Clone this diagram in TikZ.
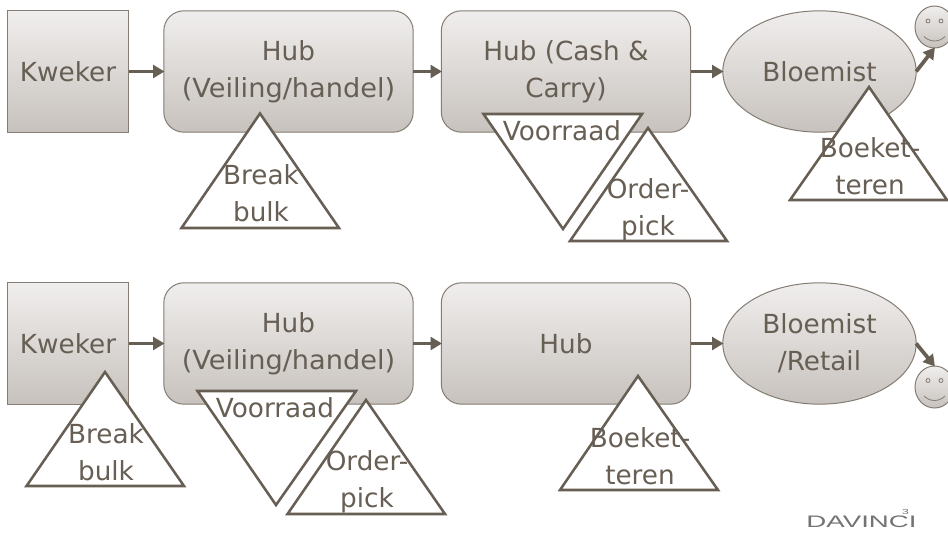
\documentclass[tikz,border=0pt]{standalone}
\usepackage{fontspec}
\setmainfont{DejaVu Sans}
\newfontfamily\logofont{Liberation Sans}
\usetikzlibrary{arrows.meta,shapes.geometric}
\definecolor{ink}{HTML}{675E54}
\definecolor{edge}{HTML}{857C73}
\definecolor{shadetop}{HTML}{F0EEED}
\definecolor{shadebot}{HTML}{C7C2BD}
\newcommand{\wideline}[1]{\scalebox{1.035}[1]{#1}}
\tikzset{
  grad/.style={draw=edge,line width=0.75pt,top color=shadetop,bottom color=shadebot,inner sep=0pt,outer sep=0pt,text=ink,align=center,
    font=\fontsize{19.7}{27.5}\selectfont},
  rectbox/.style={grad,rectangle,minimum width=91pt,minimum height=91pt},
  hubbox/.style={grad,rectangle,rounded corners=15pt,minimum width=187pt,minimum height=91pt},
  florist/.style={grad,ellipse,minimum width=145pt,minimum height=91pt},
  face/.style={grad,ellipse,minimum width=29.25pt,minimum height=31.5pt},
  flow/.style={draw=ink,line width=2.8pt,-{Triangle[length=8.5pt,width=9.5pt]},shorten >=-0.5pt},
  tri/.style={draw=ink,line width=1.9pt,fill=white,line join=miter},
  trilabel/.style={inner sep=0pt,text=ink,align=center,font=\fontsize{19.7}{27.5}\selectfont},
  facemark/.style={draw=edge,line width=0.6pt},
}
\begin{document}
\begin{tikzpicture}[x=0.75pt,y=-0.75pt]
\clip (0,0) rectangle (948,532);
\fill[white] (0,0) rectangle (948,532);
% Row 1
\node[rectbox] (k1) at (68,71.5) {Kweker};
\node[hubbox] (h1a) at (288.5,71.5) {Hub\\\wideline{(Veiling/handel)}};
\node[hubbox] (h1b) at (566,71.5) {Hub (Cash \&\\Carry)};
\node[florist] (b1) at (819.5,71.5) {Bloemist};
\node[face] (s1) at (934.5,27) {};
\draw[facemark] (928,21) circle (2);
\draw[facemark] (941,21) circle (2);
\draw[facemark] (924,36.5) .. controls (930,42.5) and (939,42.5) .. (945,36.5);
\draw[flow] (k1.east) -- (h1a.west);
\draw[flow] (h1a.east) -- (h1b.west);
\draw[flow] (h1b.east) -- (b1.west);
\draw[flow] (b1.east) -- (s1.south);
\draw[tri] (260,113.5) -- (339,228) -- (181.5,228) -- cycle;
\node[trilabel] (t1) at (261,193) {Break\\bulk};
\draw[tri] (483.5,114) -- (642,114) -- (563,229) -- cycle;
\node[trilabel] (t2) at (562,131) {Voorraad};
\draw[tri] (648,128) -- (727,241) -- (570,241) -- cycle;
\node[trilabel] (t3) at (648,210) {Order-\\pick};
\draw[tri] (869,87) -- (947,200) -- (790,200) -- cycle;
\node[trilabel] (t4) at (870,166) {Boeket-\\teren};
% Row 2
\node[rectbox] (k2) at (68,343.5) {Kweker};
\node[hubbox] (h2a) at (288.5,343.5) {Hub\\\wideline{(Veiling/handel)}};
\node[hubbox] (h2b) at (566,343.5) {Hub};
\node[florist] (b2) at (819.5,343.5) {Bloemist\\/Retail};
\node[face] (s2) at (934.5,387) {};
\draw[facemark] (928,380.5) circle (2);
\draw[facemark] (941,380.5) circle (2);
\draw[facemark] (924,396) .. controls (930,402) and (939,402) .. (945,396);
\draw[flow] (k2.east) -- (h2a.west);
\draw[flow] (h2a.east) -- (h2b.west);
\draw[flow] (h2b.east) -- (b2.west);
\draw[flow] (b2.east) -- (s2.north);
\draw[tri] (105,372) -- (184,486) -- (26.5,486) -- cycle;
\node[trilabel] (t5) at (106,452) {Break\\bulk};
\draw[tri] (197.5,391) -- (356,391) -- (276,505) -- cycle;
\node[trilabel] (t6) at (275,408) {Voorraad};
\draw[tri] (366,400) -- (445,514) -- (287.5,514) -- cycle;
\node[trilabel] (t7) at (367,482) {Order-\\pick};
\draw[tri] (638,376) -- (718,490) -- (560,490) -- cycle;
\node[trilabel] (t8) at (640,456) {Boeket-\\teren};
% Logo
\node[inner sep=0pt,text=black!55,anchor=base,font=\logofont\fontsize{12.5}{12.5}\selectfont] (logo) at (861.5,527)
  {\scalebox{1.66}[1]{DAVINC\llap{\raisebox{9.5pt}{\fontsize{5.5}{5.5}\selectfont 3}}I}};
\end{tikzpicture}
\end{document}
